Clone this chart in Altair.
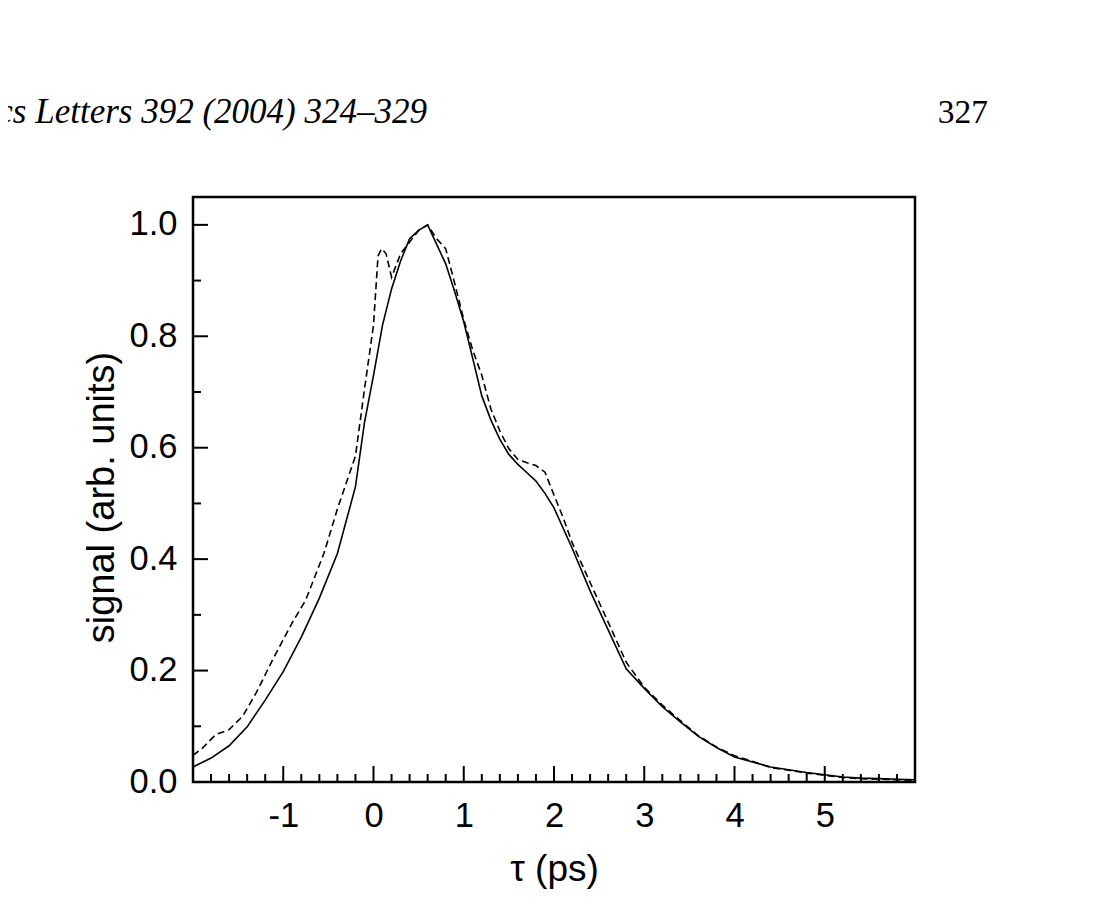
import altair as alt
import pandas as pd

# solid curve (calculated signal)
tau_fit = [-2.0, -1.8, -1.6, -1.4, -1.2, -1.0, -0.8, -0.6, -0.4, -0.2, -0.1, 0.0,
           0.1, 0.2, 0.3, 0.4, 0.5, 0.6, 0.7, 0.8, 0.9, 1.0, 1.1, 1.2, 1.3, 1.4,
           1.5, 1.6, 1.7, 1.8, 1.9, 2.0, 2.2, 2.4, 2.6, 2.8, 3.0, 3.2, 3.4, 3.6,
           3.8, 4.0, 4.2, 4.4, 4.6, 4.8, 5.0, 5.2, 5.4, 5.6, 5.8, 6.0]
sig_fit = [0.027, 0.043, 0.065, 0.099, 0.147, 0.198, 0.26, 0.33, 0.41, 0.53, 0.645, 0.73,
           0.82, 0.885, 0.935, 0.975, 0.99, 1.0, 0.965, 0.93, 0.88, 0.826, 0.76, 0.693, 0.65, 0.615,
           0.588, 0.57, 0.555, 0.54, 0.518, 0.492, 0.42, 0.343, 0.273, 0.203, 0.168, 0.135, 0.108, 0.082,
           0.062, 0.045, 0.036, 0.027, 0.022, 0.017, 0.013, 0.009, 0.007, 0.006, 0.005, 0.004]

# dashed curve (measured signal)
tau_exp = [-2.0, -1.9, -1.75, -1.6, -1.45, -1.3, -1.1, -0.9, -0.75, -0.55, -0.4, -0.2,
           -0.1, 0.0, 0.05, 0.09, 0.14, 0.2, 0.3, 0.4, 0.5, 0.6, 0.7, 0.8, 0.9, 1.0,
           1.1, 1.2, 1.3, 1.4, 1.5, 1.6, 1.7, 1.8, 1.9, 2.0, 2.1, 2.2, 2.4, 2.6,
           2.8, 3.0, 3.2, 3.4, 3.6, 3.8, 4.0, 4.2, 4.4, 4.6, 4.8, 5.0, 5.2, 5.4,
           5.6, 5.8, 6.0]
sig_exp = [0.048, 0.06, 0.085, 0.094, 0.118, 0.16, 0.225, 0.286, 0.327, 0.41, 0.49, 0.585,
           0.705, 0.82, 0.944, 0.957, 0.948, 0.906, 0.948, 0.969, 0.99, 1.0, 0.975, 0.957, 0.895, 0.83,
           0.775, 0.73, 0.67, 0.63, 0.598, 0.579, 0.573, 0.568, 0.556, 0.515, 0.475, 0.43, 0.358, 0.287,
           0.215, 0.17, 0.138, 0.11, 0.083, 0.063, 0.047, 0.037, 0.026, 0.021, 0.016, 0.012, 0.008, 0.006,
           0.005, 0.004, 0.003]

x_major = [-1, 0, 1, 2, 3, 4, 5]
x_minor = [-1.8, -1.6, -1.4, -1.2, -0.8, -0.6, -0.4, -0.2, 0.2, 0.4, 0.6, 0.8,
           1.2, 1.4, 1.6, 1.8, 2.2, 2.4, 2.6, 2.8, 3.2, 3.4, 3.6, 3.8,
           4.2, 4.4, 4.6, 4.8, 5.2, 5.4, 5.6, 5.8]
y_major = [0.0, 0.2, 0.4, 0.6, 0.8, 1.0]
y_minor = [0.1, 0.3, 0.5, 0.7, 0.9]

header_left = "Chemical Physics Letters 392 (2004) 324–329"
header_right = "327"

W, H = 722, 585
SANS = "Liberation Sans"

xs = alt.Scale(domain=[-2, 6], nice=False, zero=False)
ys = alt.Scale(domain=[0, 1.05], nice=False)

fit = pd.DataFrame({"tau": tau_fit, "signal": sig_fit})
exp = pd.DataFrame({"tau": tau_exp, "signal": sig_exp})

x_axis = alt.Axis(values=x_major, ticks=False, domain=False, grid=False,
                  labelExpr="replace(datum.label, '\u2212', '-')",
                  labelFont=SANS, labelFontSize=34.5, labelColor="black", labelPadding=17,
                  title="τ (ps)", titleFont=SANS, titleFontSize=37, titleFontWeight="normal",
                  titleColor="black", titlePadding=19)
y_axis = alt.Axis(values=y_major, format=".1f", ticks=False, domain=False, grid=False,
                  labelFont=SANS, labelFontSize=34.5, labelColor="black", labelPadding=16,
                  title="signal (arb. units)", titleFont=SANS, titleFontSize=38,
                  titleFontWeight="normal", titleColor="black", titlePadding=8, titleY=300)

X = alt.X("tau:Q", scale=xs, axis=x_axis)
Y = alt.Y("signal:Q", scale=ys, axis=y_axis)

solid = alt.Chart(fit).mark_line(color="black", strokeWidth=1.6).encode(x=X, y=Y)
dashed = alt.Chart(exp).mark_line(color="black", strokeWidth=1.6, strokeDash=[7, 4]).encode(x=X, y=Y)


def xticks(vals, length):
    return alt.Chart(pd.DataFrame({"tau": vals})).mark_rule(color="black", strokeWidth=2).encode(
        x=X, y=alt.value(H), y2=alt.value(H - length),
    )


def yticks(vals, length):
    return alt.Chart(pd.DataFrame({"signal": vals})).mark_rule(color="black", strokeWidth=2).encode(
        y=Y, x=alt.value(0), x2=alt.value(length),
    )


head = pd.DataFrame({"left": [header_left], "right": [header_right]})
head_left = alt.Chart(head).mark_text(
    font="Liberation Serif", fontStyle="italic", fontSize=35, align="right",
    baseline="alphabetic", color="black",
).encode(x=alt.value(234), y=alt.value(-74), text="left:N")
head_right = alt.Chart(head).mark_text(
    font="Liberation Serif", fontSize=33.5, align="right", baseline="alphabetic", color="black",
).encode(x=alt.value(795), y=alt.value(-74), text="right:N")

chart = alt.layer(
    solid, dashed,
    xticks(x_minor, 8), xticks(x_major, 16),
    yticks(y_minor, 8), yticks(y_major, 15),
    head_left, head_right,
).properties(
    width=W, height=H, autosize="none",
    padding={"left": 185, "top": 189, "right": 150, "bottom": 112},
    background="white",
).configure_view(stroke="black", strokeWidth=2.5)

chart.save("out.html", embed_options={"renderer": "svg", "actions": False})
